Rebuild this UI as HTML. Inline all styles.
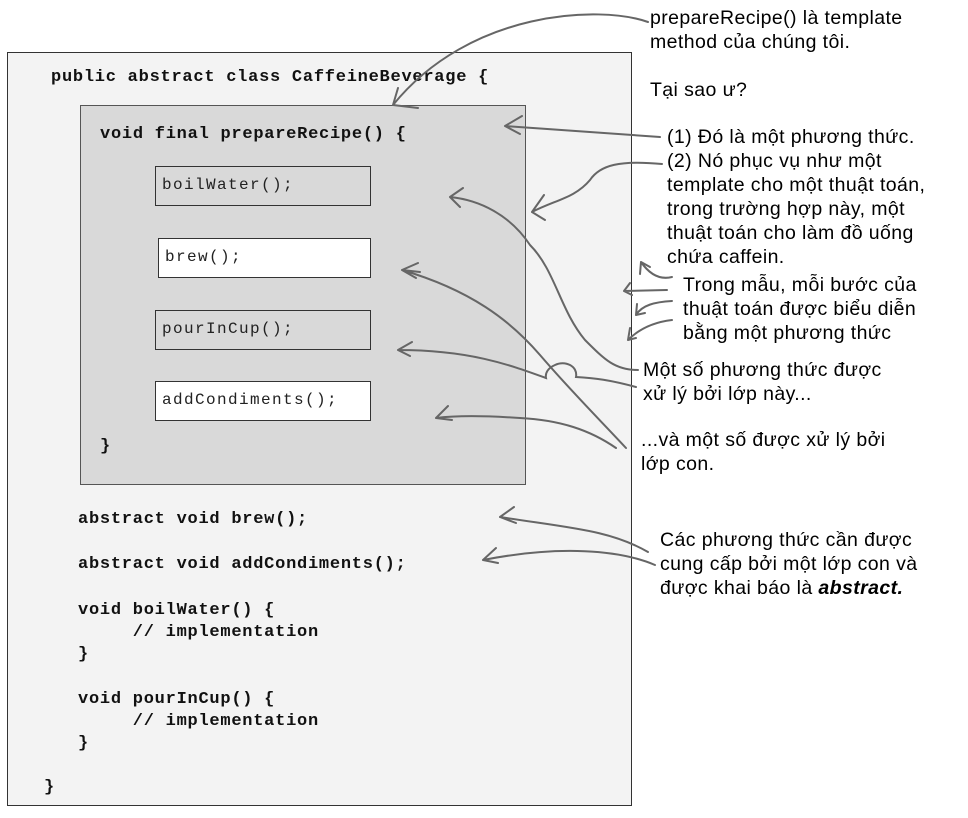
<!DOCTYPE html>
<html><head><meta charset="utf-8"><style>
body{margin:0;width:968px;height:818px;background:#fff;position:relative;overflow:hidden;font-family:"Liberation Sans",sans-serif;}
.a{position:absolute;}
.code{font-family:"Liberation Mono",monospace;font-weight:bold;font-size:17px;color:#111;white-space:pre;letter-spacing:0.75px;}
.box{position:absolute;border:1.5px solid #333;box-sizing:border-box;font-family:"Liberation Mono",monospace;font-size:16px;letter-spacing:1.4px;padding-left:6px;line-height:36px;color:#222;}
.t{position:absolute;font-size:19.5px;line-height:24px;color:#000;white-space:pre;letter-spacing:0.4px;}
</style></head><body>
<div class="a" style="left:7px;top:52px;width:625px;height:754px;background:#f3f3f3;border:1px solid #333;box-sizing:border-box"></div>
<div class="a" style="left:80px;top:105px;width:446px;height:380px;background:#d9d9d9;border:1.5px solid #555;box-sizing:border-box"></div>
<div class="a code" style="left:51px;top:68px">public abstract class CaffeineBeverage {</div>
<div class="a code" style="left:100px;top:125px">void final prepareRecipe() {</div>
<div class="box" style="left:155px;top:166px;width:216px;height:40px;background:#d9d9d9">boilWater();</div>
<div class="box" style="left:158px;top:238px;width:213px;height:40px;background:#fff">brew();</div>
<div class="box" style="left:155px;top:310px;width:216px;height:40px;background:#d9d9d9">pourInCup();</div>
<div class="box" style="left:155px;top:381px;width:216px;height:40px;background:#fff">addCondiments();</div>
<div class="a code" style="left:100px;top:437px">}</div>
<div class="a code" style="left:78px;top:510px">abstract void brew();</div>
<div class="a code" style="left:78px;top:555px">abstract void addCondiments();</div>
<div class="a code" style="left:78px;top:600px;line-height:22px">void boilWater() {
     // implementation
}</div>
<div class="a code" style="left:78px;top:689px;line-height:22px">void pourInCup() {
     // implementation
}</div>
<div class="a code" style="left:44px;top:778px">}</div>

<div class="t" style="left:650px;top:6px">prepareRecipe() là template
method của chúng tôi.

Tại sao ư?</div>
<div class="t" style="left:667px;top:125px">(1) Đó là một phương thức.
(2) Nó phục vụ như một
template cho một thuật toán,
trong trường hợp này, một
thuật toán cho làm đồ uống
chứa caffein.</div>
<div class="t" style="left:683px;top:273px">Trong mẫu, mỗi bước của
thuật toán được biểu diễn
bằng một phương thức</div>
<div class="t" style="left:643px;top:358px">Một số phương thức được
xử lý bởi lớp này...</div>
<div class="t" style="left:641px;top:428px">...và một số được xử lý bởi
lớp con.</div>
<div class="t" style="left:660px;top:528px">Các phương thức cần được
cung cấp bởi một lớp con và
được khai báo là <b><i>abstract.</i></b></div>

<svg class="a" style="left:0;top:0" width="968" height="818" fill="none" stroke="#666" stroke-width="2" stroke-linecap="round">
<path d="M648,22 C600,5 470,10 393,105 M393,105 L398,88 M393,105 L418,108"/>
<path d="M660,137 L505,126 M505,126 L522,116 M505,126 L520,134"/>
<path d="M662,164 C620,160 600,165 590,180 C575,198 555,200 532,212 M532,212 L544,195 M532,212 L545,220"/>
<path d="M672,277 C660,280 650,275 641,262 M641,262 L640,274 M641,262 L650,267"/>
<path d="M667,290 L624,291 M624,291 L630,283 M624,291 L632,295"/>
<path d="M672,301 C655,302 642,305 636,315 M636,315 L637,304 M636,315 L645,313"/>
<path d="M672,320 C655,322 640,328 628,340 M628,340 L630,328 M628,340 L636,338"/>
<path d="M638,370 C615,370 605,360 585,340 C560,310 555,270 530,245 C510,215 480,200 450,197 M450,197 L463,188 M450,197 L460,207"/>
<path d="M636,387 C610,380 595,378 576,377 C578,366 565,360 555,365 C548,368 545,373 546,378 C510,365 470,350 398,350 M398,350 L412,342 M398,350 L410,356"/>
<path d="M626,448 C600,420 570,390 540,355 C510,320 470,290 402,270 M402,270 L418,263 M402,270 L416,278 M402,270 L420,272"/>
<path d="M616,448 C590,430 560,420 520,418 C490,416 460,415 436,418 M436,418 L448,406 M436,418 L452,420"/>
<path d="M648,552 C610,530 570,528 500,517 M500,517 L514,507 M500,517 L516,523"/>
<path d="M655,565 C620,550 560,545 483,560 M483,560 L496,548 M483,560 L498,563"/>
</svg>
</body></html>
